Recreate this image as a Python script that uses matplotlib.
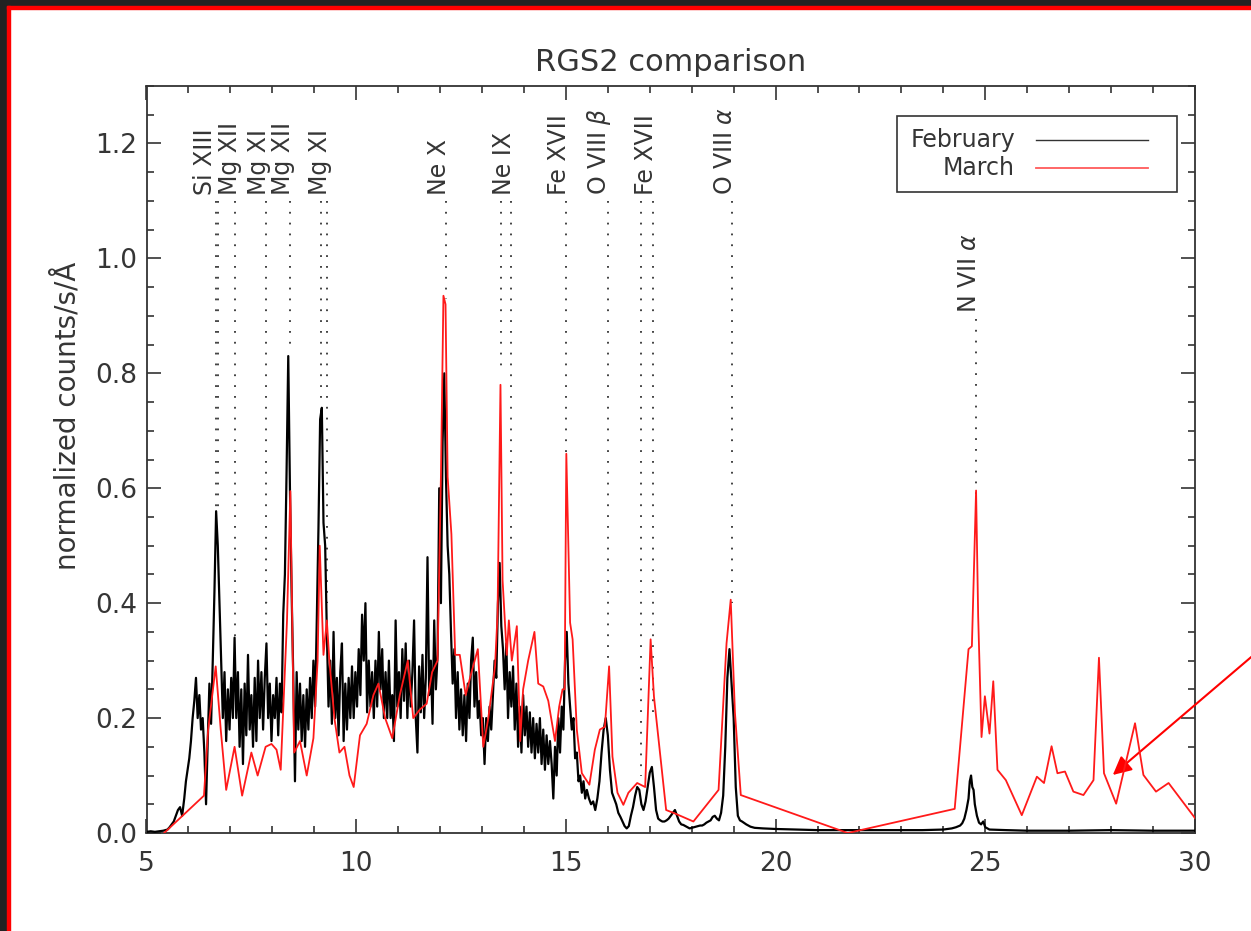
import numpy as np
import matplotlib
matplotlib.use('Agg')
import matplotlib.pyplot as plt
from matplotlib.patches import Rectangle
from matplotlib.ticker import MultipleLocator, FormatStrFormatter

# February (black) spectrum
feb_start_wave = [5.0, 5.1, 5.2, 5.3, 5.4, 5.5, 5.55, 5.6, 5.65, 5.7, 5.75, 5.8, 5.85, 5.9]
feb_start_flux = [0.002, 0.003, 0.002, 0.003, 0.004, 0.006, 0.01, 0.015, 0.02, 0.03, 0.04, 0.045, 0.03, 0.06]

# 0.04 A bins from 5.94 A
feb_dense_first = 5.94
feb_dense_step = 0.04
feb_dense_flux = [
    0.09, 0.11, 0.13, 0.16, 0.20, 0.23, 0.27, 0.20, 0.24, 0.18,
    0.20, 0.14, 0.05, 0.16, 0.26, 0.19, 0.30, 0.42, 0.56, 0.50,
    0.40, 0.30, 0.20, 0.28, 0.16, 0.25, 0.18, 0.27, 0.20, 0.34,
    0.20, 0.28, 0.15, 0.25, 0.12, 0.26, 0.17, 0.31, 0.18, 0.24,
    0.15, 0.27, 0.16, 0.30, 0.20, 0.28, 0.18, 0.27, 0.33, 0.20,
    0.26, 0.16, 0.24, 0.20, 0.27, 0.17, 0.26, 0.21, 0.38, 0.45,
    0.63, 0.83, 0.60, 0.42, 0.27, 0.09, 0.28, 0.18, 0.26, 0.16,
    0.24, 0.15, 0.25, 0.18, 0.27, 0.20, 0.30, 0.22, 0.37, 0.53,
    0.72, 0.74, 0.54, 0.50, 0.35, 0.22, 0.30, 0.19, 0.35, 0.20,
    0.27, 0.17, 0.28, 0.33, 0.16, 0.26, 0.18, 0.27, 0.20, 0.29,
    0.20, 0.28, 0.22, 0.32, 0.24, 0.38, 0.30, 0.40, 0.21, 0.30,
    0.22, 0.28, 0.20, 0.30, 0.22, 0.35, 0.25, 0.32, 0.20, 0.28,
    0.20, 0.30, 0.20, 0.24, 0.16, 0.37, 0.22, 0.28, 0.20, 0.32,
    0.23, 0.33, 0.20, 0.30, 0.22, 0.28, 0.37, 0.20, 0.14, 0.29,
    0.21, 0.31, 0.20, 0.27, 0.48, 0.24, 0.30, 0.19, 0.37, 0.25,
    0.31, 0.60, 0.40, 0.68, 0.80, 0.62, 0.50, 0.45, 0.35, 0.26,
    0.32, 0.20, 0.28, 0.18, 0.25, 0.17, 0.24, 0.16, 0.26, 0.20,
    0.30, 0.34, 0.22, 0.28, 0.20, 0.23, 0.17, 0.20, 0.12, 0.20,
    0.16, 0.22, 0.18, 0.24, 0.30, 0.27, 0.40, 0.47, 0.36, 0.32,
    0.25, 0.33, 0.20, 0.28, 0.22, 0.29, 0.18, 0.26, 0.15, 0.22,
    0.14, 0.24, 0.17, 0.22, 0.15, 0.21, 0.14, 0.20, 0.13, 0.19,
    0.14, 0.20, 0.12, 0.18, 0.11, 0.17, 0.12, 0.16, 0.12, 0.06,
    0.15, 0.10, 0.20, 0.14, 0.22, 0.18, 0.30, 0.35, 0.26, 0.22,
    0.18, 0.20, 0.13, 0.14, 0.09, 0.10, 0.07, 0.09, 0.06, 0.075,
]

# 0.05 A bins from 15.55 A
feb_mid_first = 15.55
feb_mid_step = 0.05
feb_mid_flux = [
    0.060, 0.050, 0.055, 0.040, 0.060, 0.090, 0.140, 0.180, 0.200, 0.170,
    0.110, 0.070, 0.060, 0.050, 0.035, 0.028, 0.020, 0.012, 0.008, 0.012,
    0.030, 0.045, 0.065, 0.080, 0.075, 0.050, 0.040, 0.055, 0.080, 0.105,
    0.115, 0.080, 0.040, 0.025, 0.022, 0.020, 0.020, 0.022, 0.025, 0.030,
    0.035, 0.040, 0.030, 0.020, 0.015, 0.014, 0.012, 0.010, 0.008, 0.009,
    0.010, 0.011, 0.012, 0.013, 0.013, 0.015, 0.018, 0.020, 0.022, 0.028,
    0.030, 0.025, 0.022, 0.035, 0.065, 0.150, 0.270, 0.320, 0.260, 0.200,
    0.080, 0.030, 0.022, 0.020,
]

feb_tail_wave = [19.3, 19.4, 19.5, 19.7, 20.0, 20.5, 21.0, 21.5, 22.0, 22.5, 23.0, 23.5, 24.0,
                 24.2, 24.3, 24.4, 24.45, 24.5, 24.55, 24.6, 24.63, 24.66, 24.69, 24.72, 24.75,
                 24.8, 24.85, 24.9, 24.95, 25.0, 25.1, 25.5, 26.0, 27.0, 28.0, 29.0, 30.0]
feb_tail_flux = [0.015, 0.011, 0.009, 0.008, 0.007, 0.006, 0.005, 0.005, 0.005, 0.005, 0.005, 0.005, 0.006,
                 0.008, 0.01, 0.013, 0.017, 0.025, 0.04, 0.06, 0.09, 0.10, 0.08, 0.075, 0.05,
                 0.03, 0.018, 0.015, 0.02, 0.01, 0.006, 0.005, 0.004, 0.004, 0.005, 0.004, 0.004]

# March (red) spectrum
mar_wave = [5.42, 6.37, 6.47, 6.65, 6.77, 6.90, 7.10, 7.28, 7.50, 7.65, 7.84, 7.98, 8.10, 8.20,
            8.35, 8.43, 8.52, 8.66, 8.82, 8.98, 9.08, 9.13, 9.22, 9.30, 9.36, 9.48, 9.60, 9.72,
            9.84, 9.94, 10.09, 10.25, 10.41, 10.53, 10.69, 10.86, 11.04, 11.23, 11.36, 11.52,
            11.68, 11.81, 11.94, 12.02, 12.08, 12.13, 12.18, 12.27, 12.36, 12.47, 12.61, 12.75,
            12.90, 13.03, 13.15, 13.31, 13.37, 13.44, 13.49, 13.59, 13.64, 13.71, 13.83, 13.91,
            13.98, 14.10, 14.25, 14.34, 14.46, 14.58, 14.74, 14.84, 14.92, 14.97, 15.01, 15.10,
            15.16, 15.26, 15.38, 15.56, 15.69, 15.81, 15.93, 16.03, 16.11, 16.23, 16.37, 16.49,
            16.70, 16.89, 17.02, 17.10, 17.39, 17.60, 18.04, 18.64, 18.83, 18.93, 19.03, 19.17,
            21.72, 24.27, 24.60, 24.68, 24.78, 24.83, 24.91, 24.99, 25.10, 25.19, 25.29, 25.49,
            25.87, 26.23, 26.40, 26.58, 26.72, 26.90, 27.10, 27.34, 27.58, 27.71, 27.83, 28.12,
            28.57, 28.77, 29.07, 29.37, 30.00]
mar_flux = [0.0, 0.065, 0.18, 0.29, 0.18, 0.075, 0.15, 0.065, 0.14, 0.10, 0.15, 0.155, 0.145, 0.11,
            0.37, 0.595, 0.14, 0.16, 0.10, 0.165, 0.30, 0.50, 0.31, 0.37, 0.30, 0.20, 0.14, 0.15,
            0.10, 0.08, 0.17, 0.19, 0.24, 0.26, 0.20, 0.165, 0.24, 0.30, 0.20, 0.215,
            0.225, 0.28, 0.30, 0.62, 0.935, 0.92, 0.62, 0.52, 0.31, 0.31, 0.24, 0.28,
            0.32, 0.15, 0.20, 0.29, 0.38, 0.78, 0.44, 0.31, 0.37, 0.30, 0.36, 0.16,
            0.25, 0.30, 0.35, 0.26, 0.255, 0.23, 0.16, 0.22, 0.25, 0.25, 0.66, 0.366,
            0.337, 0.18, 0.104, 0.084, 0.145, 0.18, 0.185, 0.29, 0.133, 0.07, 0.049, 0.07,
            0.087, 0.08, 0.337, 0.237, 0.04, 0.034, 0.02, 0.075, 0.33, 0.406, 0.21, 0.066,
            0.0, 0.042, 0.32, 0.325, 0.596, 0.377, 0.167, 0.238, 0.173, 0.264, 0.11, 0.092,
            0.031, 0.098, 0.087, 0.151, 0.104, 0.107, 0.072, 0.066, 0.092, 0.305, 0.104, 0.051,
            0.191, 0.101, 0.072, 0.087, 0.026]

# identified lines: dotted marker wavelength and where the dots stop
line_waves = [6.65, 6.70, 7.10, 7.85, 8.42, 9.17, 9.31, 12.13, 13.45, 13.70,
              15.01, 16.00, 16.78, 17.08, 18.97, 24.78]
line_ends = [0.56, 0.56, 0.34, 0.33, 0.84, 0.75, 0.40, 0.93, 0.80, 0.41,
             0.66, 0.29, 0.10, 0.20, 0.40, 0.59]
line_starts = [1.10] * 15 + [0.895]

label_texts = ['Si XIII', 'Mg XII', 'Mg XI', 'Mg XII', 'Mg XI', 'Ne X', 'Ne IX',
               'Fe XVII', r'O VIII $\beta$', 'Fe XVII', r'O VIII $\alpha$', r'N VII $\alpha$']
label_waves = [6.55, 7.16, 7.85, 8.42, 9.31, 12.13, 13.70, 15.01, 16.00, 17.08, 18.97, 24.78]
label_bottoms = [1.11] * 11 + [0.905]


def main():
    plt.rcParams['font.family'] = 'DejaVu Sans'
    plt.rcParams['mathtext.fontset'] = 'dejavusans'
    txt = '#353535'

    fig = plt.figure(figsize=(12.51, 9.31), dpi=100)
    fig.patch.set_facecolor('white')

    # frame around the screenshot
    W, H = 1251.0, 931.0
    fig.patches.append(Rectangle((0, 0), 7 / W, 1, transform=fig.transFigure,
                                 color='#222222', zorder=0))
    fig.patches.append(Rectangle((0, 1 - 6 / H), 1, 6 / H, transform=fig.transFigure,
                                 color='#222222', zorder=0))
    fig.patches.append(Rectangle((7 / W, 0), 2.5 / W, 1 - 6 / H, transform=fig.transFigure,
                                 color='red', zorder=1))
    fig.patches.append(Rectangle((7 / W, 1 - 8.5 / H), 1, 2.5 / H, transform=fig.transFigure,
                                 color='red', zorder=1))

    ax = fig.add_axes([146.5 / W, 1 - 833 / H, (1195 - 146.5) / W, (833 - 86) / H])

    feb_wave = (feb_start_wave
                + list(feb_dense_first + feb_dense_step * np.arange(len(feb_dense_flux)))
                + list(feb_mid_first + feb_mid_step * np.arange(len(feb_mid_flux)))
                + feb_tail_wave)
    feb_flux = feb_start_flux + feb_dense_flux + feb_mid_flux + feb_tail_flux

    ax.plot(feb_wave, feb_flux, color='black', lw=1.6, zorder=3)
    ax.plot(mar_wave, mar_flux, color='#ff1a1a', lw=1.3, zorder=4)

    for w, y0, y1 in zip(line_waves, line_starts, line_ends):
        ax.plot([w, w], [y0, y1], color='#333333', lw=1.3,
                linestyle=(0, (1, 5)), zorder=2)

    for t, w, yb in zip(label_texts, label_waves, label_bottoms):
        ax.text(w + 0.12, yb, t, rotation=90, ha='right', va='bottom',
                fontsize=17, color=txt)

    ax.set_xlim(5, 30)
    ax.set_ylim(0, 1.3)
    ax.xaxis.set_major_locator(MultipleLocator(5))
    ax.xaxis.set_minor_locator(MultipleLocator(1))
    ax.yaxis.set_major_locator(MultipleLocator(0.2))
    ax.yaxis.set_minor_locator(MultipleLocator(0.05))
    ax.yaxis.set_major_formatter(FormatStrFormatter('%.1f'))
    ax.set_yticks([0, 0.2, 0.4, 0.6, 0.8, 1.0, 1.2])

    ax.tick_params(which='both', direction='in', top=True, right=True,
                   width=1.2, color='#333333', labelsize=19, labelcolor=txt)
    ax.tick_params(which='major', length=10)
    ax.tick_params(which='minor', length=5)
    ax.tick_params(axis='x', pad=13)
    ax.tick_params(axis='y', pad=7)
    for s in ax.spines.values():
        s.set_linewidth(1.3)
        s.set_color('#333333')

    ax.set_ylabel('normalized counts/s/Å', fontsize=20, color=txt)
    ax.yaxis.label.set_va('center')
    ax.yaxis.set_label_coords(-0.0758, 0.558)
    ax.text(0.5, 1.032, 'RGS2 comparison', transform=ax.transAxes, ha='center',
            va='center', fontsize=22, color=txt)

    # legend drawn the way the original tool does: names left, samples right
    ax.add_patch(Rectangle((0.7157, 0.8585), 0.2667, 0.1013, transform=ax.transAxes,
                           fill=False, lw=1.2, ec='#333333', zorder=5))
    ax.text(0.8283, 0.9277, 'February', transform=ax.transAxes, ha='right',
            va='center', fontsize=17, color=txt)
    ax.text(0.8283, 0.8902, 'March', transform=ax.transAxes, ha='right',
            va='center', fontsize=17, color=txt)
    ax.plot([0.8481, 0.9551], [0.9277, 0.9277], transform=ax.transAxes,
            color='#333333', lw=1.0)
    ax.plot([0.8481, 0.9551], [0.8902, 0.8902], transform=ax.transAxes,
            color='#ff5a5a', lw=1.3)

    # red arrow coming in from the right edge
    ax.annotate('', xy=(28.04, 0.101), xycoords='data',
                xytext=(1.02, 0.317), textcoords='figure fraction',
                arrowprops=dict(arrowstyle='-|>', color='red', lw=1.5,
                                mutation_scale=28, shrinkA=0, shrinkB=0),
                annotation_clip=False)

    fig.savefig('out.png', dpi=100)


if __name__ == "__main__":
    main()
